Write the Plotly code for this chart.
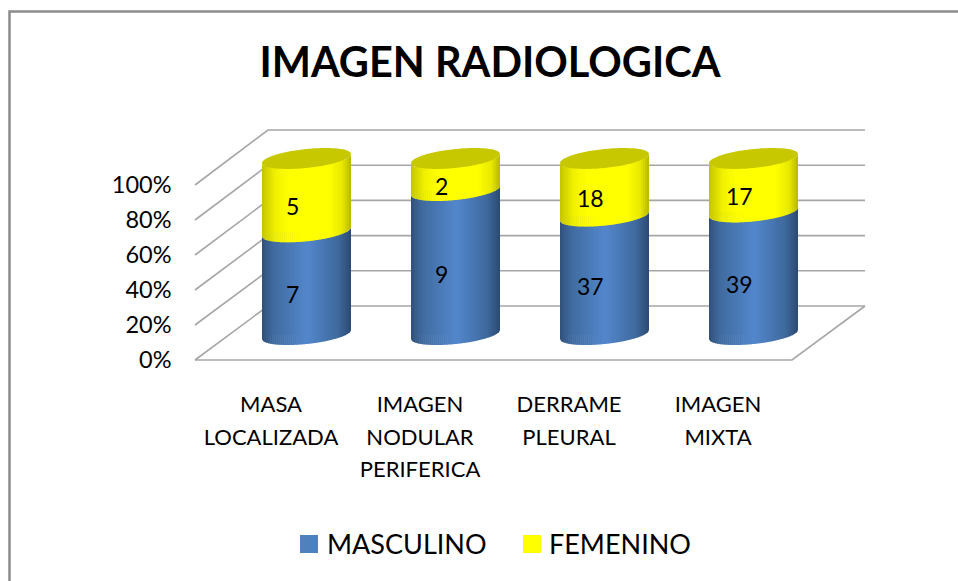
import math
import plotly.graph_objects as go

categories = ["MASA<br>LOCALIZADA", "IMAGEN<br>NODULAR<br>PERIFERICA", "DERRAME<br>PLEURAL", "IMAGEN<br>MIXTA"]
masculino = [7, 9, 37, 39]
femenino = [5, 2, 18, 17]
y_ticks = [0, 20, 40, 60, 80, 100]
y_labels = ["0%", "20%", "40%", "60%", "80%", "100%"]
title_text = "IMAGEN RADIOLOGICA"

W, H = 958, 581
px = lambda v: v / W
py = lambda v: 1 - v / H

FONT = "Lato"
GRID = "#A6A6A6"
BORDER = "#8C8C8C"
BLUE = "#4F81BD"
YELLOW = "#FFFF00"

# geometry of the pseudo-3D frame (pixels)
FRONT_L, FRONT_R, BACK_L, BACK_R = 195, 792, 268, 865
FRONT_0, FRONT_100, BACK_0, BACK_100 = 360, 185, 306, 130
# cylinder axis: value 0 -> 334.5 px, 1% -> 1.76 px
CY0, PER = 334.5, 1.76
LOW, HIGH = -10, 110
SPACING = 149
LEFT_CYL = 306.5 - SPACING / 2
A, B, S = 44.5, 9.5, 4.5
a_u, b_u, s_u = A / SPACING, B / PER, S / PER


def interp(stops, t):
    for (p0, c0), (p1, c1) in zip(stops, stops[1:]):
        if t <= p1:
            f = (t - p0) / (p1 - p0)
            return "rgb(%d,%d,%d)" % tuple(round(c0[i] + (c1[i] - c0[i]) * f) for i in range(3))
    return "rgb(%d,%d,%d)" % stops[-1][1]


BLUE_STOPS = [(0, (47, 80, 120)), (0.12, (63, 106, 158)), (0.5, (83, 135, 204)), (0.85, (63, 106, 158)), (1, (44, 74, 114))]
YELLOW_STOPS = [(0, (196, 196, 0)), (0.15, (240, 240, 0)), (0.3, (255, 255, 0)), (0.75, (255, 255, 0)), (0.9, (232, 232, 0)), (1, (184, 184, 0))]
CAP = "#C8C800"
N = 44


def front(u):
    return -(b_u * max(0.0, 1 - u * u) ** 0.5 - s_u * u)


def strip(cx, u0, u1, y0, y1):
    us = [u0 + (u1 - u0) * k / 3 for k in range(4)]
    pts = [(cx + a_u * u, y0 + front(u)) for u in us] + [(cx + a_u * u, y1 + front(u)) for u in reversed(us)]
    return "M" + " L".join("%.5f,%.4f" % p for p in pts) + " Z"


def ellipse(cx, yc):
    pts = []
    for k in range(72):
        t = 2 * math.pi * k / 72
        pts.append((cx + a_u * math.cos(t), yc - b_u * math.sin(t) + s_u * math.cos(t)))
    return "M" + " L".join("%.5f,%.4f" % p for p in pts) + " Z"


def tick_text(label):
    return "<br>".join(f'<span style="font-size:22px">{part}</span>' for part in label.split("<br>"))


shapes = []
# chart border
shapes.append(dict(type="path", xref="paper", yref="paper", layer="below",
                   path=f"M{px(9.5)},{py(581)} L{px(9.5)},{py(11.5)} L{px(958)},{py(11.5)}",
                   line=dict(color=BORDER, width=2.5)))
# frame gridlines derived from the tick values
for v in y_ticks:
    yf = FRONT_0 + (FRONT_100 - FRONT_0) * v / 100
    yb = BACK_0 + (BACK_100 - BACK_0) * v / 100
    shapes.append(dict(type="path", xref="paper", yref="paper", layer="below",
                       path=f"M{px(FRONT_L)},{py(yf)} L{px(BACK_L)},{py(yb)} L{px(BACK_R)},{py(yb)}",
                       line=dict(color=GRID, width=1.6)))
shapes.append(dict(type="path", xref="paper", yref="paper", layer="below",
                   path=f"M{px(FRONT_L)},{py(FRONT_0)} L{px(FRONT_R)},{py(FRONT_0)} L{px(BACK_R)},{py(BACK_0)}",
                   line=dict(color=GRID, width=1.6)))
# larger legend swatches
for x0, col in ((300, BLUE), (523, YELLOW)):
    shapes.append(dict(type="rect", xref="paper", yref="paper", layer="above",
                       x0=px(x0), x1=px(x0 + 18), y0=py(553), y1=py(535), fillcolor=col, line=dict(width=0)))

annotations = []
for i, (m, f) in enumerate(zip(masculino, femenino)):
    total = m + f
    split = 100 * m / total
    for (y0, y1, stops) in ((0, split, BLUE_STOPS), (split, 100, YELLOW_STOPS)):
        for k in range(N):
            u0 = -1 + 2 * k / N
            u1 = -1 + 2 * (k + 1) / N
            col = interp(stops, (k + 0.5) / N)
            shapes.append(dict(type="path", xref="x", yref="y2", layer="above",
                               path=strip(i, u0, min(1, u1 + 0.012), y0, y1),
                               fillcolor=col, line=dict(width=0)))
    shapes.append(dict(type="path", xref="x", yref="y2", layer="above",
                       path=ellipse(i, 100), fillcolor=CAP, line=dict(width=0)))
    for val, mid in ((m, split / 2), (f, split + (100 - split) / 2)):
        annotations.append(dict(x=i, y=mid, xref="x", yref="y2", text=str(val), showarrow=False,
                                xshift=-14, yshift=-11, font=dict(family=FONT, size=23, color="#000000")))

positions = list(range(len(categories)))
BAR_WIDTH = 2 * a_u * 0.88  # stays inside the curved base of the cylinder
fig = go.Figure()
fig.add_trace(go.Bar(name="MASCULINO", x=positions, y=masculino, xaxis="x", yaxis="y2",
                     marker=dict(color=BLUE, line=dict(width=0)), width=BAR_WIDTH))
fig.add_trace(go.Bar(name="FEMENINO", x=positions, y=femenino, xaxis="x", yaxis="y2",
                     marker=dict(color=YELLOW, line=dict(width=0)), width=BAR_WIDTH))
# carries the tick-label axes of the front plane
fig.add_trace(go.Scatter(x=[0], y=[0], xaxis="x2", yaxis="y", mode="markers",
                         marker=dict(opacity=0), showlegend=False, hoverinfo="skip"))

fig.update_layout(
    width=W, height=H, autosize=False,
    margin=dict(l=0, r=0, t=0, b=0, autoexpand=False),
    paper_bgcolor="#FFFFFF", plot_bgcolor="rgba(0,0,0,0)",
    barmode="stack", barnorm="percent",
    font=dict(family=FONT, color="#000000"),
    title=dict(text=f"<b>{title_text}</b>", x=490 / W, xanchor="center", y=py(62), yanchor="middle",
               font=dict(family=FONT, size=41.5, color="#000000")),
    xaxis=dict(domain=[px(LEFT_CYL), px(LEFT_CYL + 4 * SPACING)], range=[-0.5, 3.5], visible=False, anchor="y2"),
    yaxis2=dict(domain=[py(CY0 - LOW * PER), py(CY0 - HIGH * PER)], range=[LOW, HIGH], visible=False, anchor="x"),
    xaxis2=dict(domain=[px(FRONT_L + 1.5), px(FRONT_R + 0.5)], range=[-0.5, 3.5], anchor="y",
                tickmode="array", tickvals=positions, ticktext=[tick_text(c) for c in categories],
                showgrid=False, zeroline=False,
                showline=False, ticks="", ticklabelstandoff=26, tickangle=0,
                tickfont=dict(family=FONT, size=25, color="#000000")),
    yaxis=dict(domain=[py(FRONT_0), py(FRONT_100)], range=[0, 100], anchor="x2",
               tickmode="array", tickvals=y_ticks, ticktext=y_labels, showgrid=False, zeroline=False,
               showline=False, ticks="", ticklabelstandoff=24,
               tickfont=dict(family=FONT, size=23.5, color="#000000")),
    legend=dict(orientation="h", x=px(287), xanchor="left", y=py(544), yanchor="middle",
                font=dict(family=FONT, size=27, color="#000000"), itemwidth=30, traceorder="normal",
                entrywidth=177, entrywidthmode="pixels", bgcolor="rgba(0,0,0,0)"),
    shapes=shapes, annotations=annotations,
)
fig.write_html("out.html", config={"displayModeBar": False},
               post_script="document.body.style.margin='0';document.documentElement.style.overflow='hidden';")
